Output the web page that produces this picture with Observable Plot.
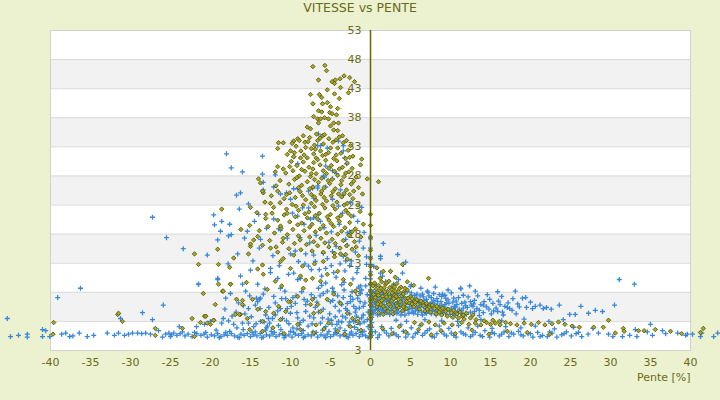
<!DOCTYPE html>
<html>
<head>
<meta charset="utf-8">
<script src="https://cdn.jsdelivr.net/npm/d3@7"></script>
<script src="https://cdn.jsdelivr.net/npm/@observablehq/plot@0.6"></script>
<style>
  html, body { margin: 0; padding: 0; background: #ecf1cf; }
  #title { height: 20px; line-height: 20px; text-align: center; font: 12.5px "DejaVu Sans", sans-serif; color: #6a6a1a; }
  #chart svg { display: block; }
</style>
</head>
<body>
<div id="title">VITESSE vs PENTE</div>
<div id="chart"></div>
<script>
// ---- Tick values / labels ----
const xTicks = [-40,-35,-30,-25,-20,-15,-10,-5,0,5,10,15,20,25,30,35,40];
const yTicks = [53,48,43,38,33,28,23,18,13,8,3,-2];
const yTickLabels = ["53","48","43","38","33","28","23","18","13","8","3","3"];
const bandLows = [43,33,23,13,3];   // grey bands (low edge, +5)
const xLabel = "Pente [%]";

// ---- Olive series (diamonds): [pente, vitesse] ----
const oliveTop = [[-7.2,46.8],[-5.7,47],[-5.5,46.1],[-6.5,44.5],[-4.8,44.2],[-4.4,44.5],[-3.8,44.7],[-3.3,45.2],[-2.6,44.9],[-2,44.2],[-4.5,43.9],[-3.75,43.2],[-2.75,42.3],[-5.4,42.8],[-7.5,42],[-6.4,42],[-6.1,41.5],[-4.5,42.1],[-3.9,41.3],[-7.2,40.4],[-6,40.4],[-5.4,40.6],[-5,39.9],[-4.1,39.6],[-6.5,39.2],[-6.1,39],[-5.1,38.9],[-4.8,38.7],[-4.25,38.5],[-7.1,38.2],[-6.6,37.8],[-6.25,37.8],[-5.75,38],[-5.25,37.8],[-6.5,37.1],[-4.6,37.1],[-4,37.1],[-7.9,36.4],[-7.5,36.1],[-5,36.6],[-4.6,35.9],[-4.1,35.8],[-6.75,35.2],[-6,34.9],[-5.75,35.1]];
const oliveMid = [[-8.4,34.9],[-9.1,34.4],[-9.6,34],[-11.5,33.7],[-10.9,33.7],[-11.6,32.7],[-10,32.3],[-9.6,31.3],[-8.75,31.1],[-7.9,31.1],[-7.1,31.8],[-6.25,32.3],[-5.25,32],[-4.1,32.8],[-3.4,33.7],[-1.1,30.9],[-1.25,29.9],[-0.4,27.5],[1,27],[-1,24.9],[-2.1,25.4],[-11.6,29.6],[-11.9,28.7],[-14,27.5],[-13.75,26.8],[-13.4,25.1],[-10.9,29.2],
[-8.2,33.8],[-7.6,34.6],[-7,33.3],[-6.6,34.1],[-5.9,33.5],[-5.2,34.4],[-4.7,33.8],[-3.9,34.7],[-3,34.1],[-2.5,33.2],[-9.3,33.1],[-8.7,32.3],[-7.4,32.7],[-6.8,31.1],[-5.6,31.7],[-4.6,31],[-3.7,31.9],[-2.8,32.4],[-2.2,31.4],[-10.4,31.7],[-9.9,30.5],[-9.2,29.8],[-8.4,30.4],[-7.7,29.5],[-7.1,30.3],[-6.3,29.9],[-5.6,30.7],[-4.9,29.8],[-4.2,30.6],[-3.5,29.5],[-2.9,30.2],[-2.3,29.3],[-10.6,28.5],[-9.7,28.9],[-8.9,28],[-8.2,28.8],[-7.5,27.9],[-6.8,28.4],[-6.1,27.6],[-5.5,28.4],[-4.8,27.4],[-4.1,28.1],[-3.3,27.9],[-2.7,28.7],[-1.8,27.8],[-11.3,27.2],[-10.2,26.6],[-9.5,27.4],[-8.6,26.4],[-7.9,27],[-7.2,26.1],[-6.5,26.9],[-5.8,26],[-5.1,26.7],[-4.4,25.8],[-3.7,26.5],[-3,25.6],[-2.4,26.6],[-1.5,26],
[-12.4,24.6],[-11.6,25.4],[-10.8,24.1],[-10.1,25.1],[-9.4,24.3],[-8.8,25.3],[-8.1,23.9],[-7.4,24.8],[-6.8,23.8],[-6.2,24.9],[-5.5,23.7],[-4.9,24.6],[-4.2,23.5],[-3.6,24.4],[-2.9,23.3],[-2.2,24.1],[-1.6,23],[-13.2,23.5],[-12.1,22.6],[-11.3,23.4],[-10.5,22.3],[-9.8,23.1],[-9,22.1],[-8.4,23],[-7.7,21.8],[-7,22.7],[-6.4,21.6],[-5.7,22.5],[-5,21.4],[-4.4,22.3],[-3.7,21.2],[-3.1,22.1],[-2.4,21.1],[-1.3,21.9],[-14.2,21.7],[-13.1,20.7],[-12.3,21.6],[-11.6,20.4],[-10.8,21.3],[-10.1,20.1],[-9.4,21],[-8.6,19.9],[-7.9,20.8],[-7.3,19.7],[-6.6,20.6],[-5.9,19.5],[-5.2,20.4],[-4.6,19.3],[-3.9,20.2],[-3.2,19.1],[-2.6,20],[-1.9,18.9],[-0.9,19.7],[-15.1,19.5],[-13.9,18.6],[-12.8,19.3],[-12,18.2],[-11.2,19],[-10.4,17.9],[-9.7,18.8],[-9,17.7],[-8.3,18.6],[-7.6,17.5],[-6.9,18.4],[-6.2,17.3],[-5.5,18.2],[-4.8,17.1],[-4.1,18],[-3.4,16.9],[-2.7,17.8],[-2,16.7],[-1.2,17.5],[-14.6,17],[-13.5,16.1],[-12.6,16.9],[-11.8,15.8],[-11,16.6],[-10.2,15.5],[-9.5,16.4],[-8.7,15.3],[-8,16.2],[-7.3,15.1],[-6.6,16],[-5.9,14.9],[-5.2,15.8],[-4.5,14.7],[-3.8,15.6],[-3.1,14.5],[-2.3,15.4],[-1.5,14.3],
[-18.6,22.3],[-15,22.6],[-13.5,25.4],[-12.5,23.3],[-13.1,21.4],[-11.25,19.4],[-15,15.9],[-14.1,17.6],[-16.2,18.8],
[-9.8,33.6],[-8.9,34.1],[-7.8,33.9],[-6.3,34.5],[-4.3,34.2],[-3.5,34.9],[-8.1,32.9],[-6.9,32.6],[-6,31.5],[-5,32.8],[-4.3,31.6],[-3.1,31],[-9.5,32],[-8.3,31.6],[-7.2,29.2],[-6.6,30.8],[-5.2,29.3],[-3.9,29.2],[-2.6,31.2],[-10.1,29.6],[-8.6,29.1],[-7.4,28.4],[-5.9,28.9],[-4.5,28.8],[-3.1,28.5],[-9.2,27.7],[-7,27.4],[-5.3,27.2],[-3.6,27.2],[-2.1,27.1],[-9,26],[-7.6,25.8],[-6.1,25.4],[-4.7,25.3],[-3.3,25],[-11.8,26.3],[-10.5,24.8],[-8.5,24.6],[-7,24.4],[-5.8,24.3],[-4,24.9],[-2.6,24.8],[-9.3,22.8],[-7.4,23.3],[-6,23.1],[-4.7,22.9],[-3.3,23],[-10.4,21.6],[-8.2,21.5],[-6.9,21.2],[-5.4,21],[-4.1,20.8],[-2.8,21.6],[-9.1,19.6],[-7.6,19.2],[-6.3,18.9],[-4.9,19.8],[-3.6,18.5],[-2.3,18.4],[-10.9,17.3],[-8.8,17],[-7.1,16.7],[-5.7,16.5],[-4.4,16.4],[-3,16],[-1.8,15.8]];
const oliveLow = [[-22,14.6],[-19.1,15.4],[-21.5,12.8],[-19,12.8],[-17.1,13.9],[-17.6,12.3],[-15.25,14.6],[-15,16.3],[-13.5,12.7],[-13.4,11.1],[-14.1,12],[-12.5,15.6],[-11.6,14.9],[-11.25,13.3],[-11.9,9.9],[-11.1,9.1],[-12.9,8.5],[-14.75,6.8],[-16,5.9],[-19.4,5.9],[-20.9,7.8],[-19,9.4],[-18.5,8.2],[-17.5,9.4],[-20.6,3.9],[-19.6,3.2],[-16.25,4.2],[-14.1,5.1],[-13.1,4.7],[-13.5,3],[-12.1,4.4],[-11.25,3.3],[-10.6,4.7],[-10,6.4],[-9.1,7.3],[-8.4,8.7],[-7.25,6.8],[-6.6,5.9],[-6.25,4.7],[-7.1,4.4],[-5.4,6.8],[-4.6,7.7],[-3.75,6.1],[-2.9,4.4],[-2.25,3.5],[-1.6,3],[-5.25,2.7],[-6.8,2.4],[-9.1,2.5],[-8.75,10.8],[-8.1,10.1],[-7.25,10.4],[-6.25,9.9],[-5.4,11.1],[-4.1,11.6],[-3.4,10.2],[-2.5,9.4],[-1.9,8.2],[-3.75,14.6],[-4.5,14.1],[-2.9,13.7],[-5.9,13.3],[-7,12.9],[-8.5,12.5],[-10,12.1],[-10.9,13.8],[-9.6,14.4],
[-31.6,4.2],[-31.5,4.4],[-31,3],[-39.6,2.8],[-39.7,0.8],[-26.9,1.8],[-26.9,0.6],[-23.5,1.8],[-22.3,3.5],[-22,0.4],[-21.25,2.8],[-20.75,3.9],[-20.6,3.9],[-20.4,2.7],[-20,2.5],[-19.6,3.2],[-18.4,8.2],[-17.5,9.4],[-16.75,6.8],[-16.4,4.2],[-16,6.6],[-15.4,3.5],[-15.5,9.7],[-15.1,1.6],[-13.5,1.3],[-8.75,1.6],[-7.1,1],[-4.1,1.3],[-2.5,2.1],[-16.9,4.2],[-11.5,5.6],[-10.25,6.4],[-7.5,5.9],[-12.2,1.9],[-10.8,0.9],[-5.8,1.7],[-3.2,0.8],[-1.2,1.5],
[0,19.5],[0,17.5],[0,15.2],[0,13.8],[0,12.5],[0,11],[0,9.5],[0,8.2],[0,7],[0,5.8],[0,4.6],[0,3.4],[0,2.2],[0,1],[0,0.3],[0,21.4],[0,6.4],[0,3.9]];
const oliveRight = [[0.5,9.6],[1,9.2],[1.4,9.8],[1.9,9.4],[2.3,9.9],[2.8,9.1],[3.3,9.5],[3.8,8.9],[0.7,8.6],[1.2,8.3],[1.7,8.8],[2.1,8.1],[2.6,8.5],[3.1,8.2],[3.6,8.6],[4.1,8],[4.6,8.4],[0.4,7.6],[0.9,7.9],[1.5,7.3],[1.9,7.7],[2.4,7.2],[2.9,7.6],[3.4,7],[3.9,7.4],[4.4,6.9],[5,7.3],[0.6,6.7],[1.1,6.3],[1.6,6.8],[2.2,6.2],[2.7,6.6],[3.2,6],[3.7,6.4],[4.2,5.9],[4.8,6.2],[5.4,6.6],[0.8,5.5],[1.3,5.9],[1.8,5.2],[2.5,5.6],[3,5],[3.5,5.4],[4,4.8],[4.5,5.2],[1,4.5],[1.6,4.2],[2.2,4.7],[2.8,4.3],
[0.3,9.1],[1.3,8.7],[2,9.6],[2.4,8.8],[3,8.9],[3.5,8.1],[4.3,8.7],[1,7.5],[1.8,8.1],[2.7,7.9],[3.2,7.3],[4.1,7.7],[4.7,7],[0.6,7.1],[1.4,6.6],[2,7.2],[2.9,6.9],[3.5,6.8],[4.5,6.4],[5.2,6],[0.9,6],[1.6,5.6],[2.3,5.9],[3.3,5.7],[4.1,5.5],[5.8,6.7],[6.5,6.2],[7.4,5.7],[8.5,5.3],[9.3,5],[10.6,4.6],[11.5,3.9],[12.5,3.6],[13.2,3.3],[12.8,4.1],
[5.2,6.9],[5.6,6.3],[5.9,5.9],[6.3,6.5],[6.6,5.7],[7,6.1],[7.3,5.4],[7.7,5.8],[8,5.2],[8.3,5.6],[8.7,4.9],[9,5.3],[9.4,4.7],[9.7,5.1],[10.1,4.5],[10.4,4.9],[10.8,4.3],[11.2,4.6],[11.6,4.1],[12,4.4],[6.1,5.1],[6.8,4.8],[7.5,4.6],[8.2,4.3],[8.9,4.1],[9.6,3.9],[10.3,3.7],[11,3.6],[11.7,3.4],[5.4,5.5],[7.1,5.1],[8.6,4.6],
[5.5,2.8],[6.4,2.5],[7.3,2.9],[8.1,2.4],[9.2,2.7],[10.2,2.4],[11.4,2.8],[12.3,2.5],[13.1,2.7],[13.8,2.4],[14.5,2.8],[15,2.5],[15.6,2.7],[16.2,2.4],[16.9,2.8],[17.5,2.6],[18.3,2.4],[19.2,2.7],[20.1,2.5],[21,2.8],[21.8,2.4],[22.7,2.6],[23.5,2.9],[24.3,2.5],[25.2,2.2],[26.1,2],[14.2,3.1],[15.3,3.2],[16.1,3],
[1.5,1.8],[2.7,0.9],[3.6,2.1],[4.4,1.2],[6,1.6],[7.6,0.7],[8.8,1.4],[10.6,0.9],[12.7,1.5],[14.8,0.8],[17.1,1.3],[19.6,1.1],[22.4,0.8],
[1.6,11.6],[2.5,11.6],[4,12.8],[7.25,10.4],[0.8,12.2],[3.1,10.6],[1.2,10.4],[5.4,9.2],[4.6,9.8],
[29.75,3.2],[27.9,2],[29.1,2],[30.6,1],[31.6,1.8],[31.7,1.3],[33.5,1.4],[34.2,1.4],[37.5,1.3],[41.6,1.8],[41.25,1.1],[35.6,1.6],[38.9,0.9]];

// ---- Blue series (plus): [pente, vitesse] ----
const blueLeft = [[-18,31.8],[-13.5,31.4],[-17.4,29.4],[-16,28.7],[-13.5,28.3],[-13.4,26.9],[-12.1,26.1],[-13.4,25.6],[-16.75,24.7],[-16.25,25.1],[-11.25,24.9],[-10,24],[-9.6,25.8],[-9.1,30.1],[-9.6,31.3],[-6.25,33.2],[-4,34],[-3.4,33.2],[-5.6,29.7],[-4.75,28.9],[-4.25,28.4],[-15.25,23.2],[-16.4,22.3],[-19.6,21.3],[-18.6,20.2],[-19.5,19.6],[-17.6,19.7],[-18.75,18.5],[-19.1,17],[-17.75,17.7],[-17.4,17.9],[-15.75,17.3],[-15.4,18.5],[-14.5,20.2],[-14,21.4],[-13.75,17.1],[-13,19],[-12.1,20.6],[-11.5,18.9],[-11.25,18.7],[-10.4,17.3],[-9.75,21.6],[-9.1,21.1],[-8.5,22.5],[-7.75,22.5],[-7.5,20.6],[-7.1,20.8],[-6.5,21.4],[-6.25,20.2],[-9.1,25.8],[-7.25,25.9],[-6.6,25.9],[-5.9,28],[-4.75,24],[-4,22.8],[-3.5,21.6],[-2.9,18.2],[-2.6,18.4],[-3.1,17.1],[-2.1,21.1],[-1.6,20.2],
[-11.9,28.2],[-6.5,35.2],[-6.6,33.2],[-5.4,32.8],[-3.4,32.3],[-3.25,31.1],[-3,30.1],[-5.75,27.8],[-4.75,27.5],[-6.6,26.3],[-5.6,26.1],[-3.75,25.6],[-3.4,24.7],[-7.75,25.4],[-7.1,24.2],[-10.5,25.1],[-27.25,20.9],[-25.5,17.4],[-23.4,15.5],
[-20.4,14.4],[-21.5,9.4],[-19.1,10.2],[-18.1,7],[-17.5,7.8],[-16.25,10.8],[-15,11.8],[-16,9.4],[-14.25,7],[-13.9,6.8],[-13.4,7.7],[-12.5,12.1],[-12.5,11.4],[-11.6,10.4],[-11.25,8.7],[-10.25,11.1],[-9.6,11.3],[-9.1,10.2],[-8.75,10.4],[-7.75,12.5],[-7.4,11.9],[-10,14.6],[-9.4,15.1],[-8.1,14.6],[-7.1,14.4],[-5.9,14.7],[-4.75,15],[-5.4,13.8],[-6.5,8.7],[-6.1,9.2],[-5.4,8.2],[-4.75,8.7],[-4.1,7.4],[-3.4,7.1],[-2.9,6.1],[-2.5,6.4],[-2.1,5.6],[-1.6,7],[-1.25,7.8],[-0.6,10.4],[-1.25,9.1],[-2.1,3],[-1.75,3.9],[-3.5,3.9],[-4,3],[-4.9,3.2],[-6.25,2.7],[-7.1,3.6],[-8.1,4.7],[-9.1,3.6],[-10,4.4],[-11.25,5.2],[-12.25,3.5],[-13.1,4.1],[-13.75,3],[-15.25,2.7],[-16,2.7],[-17.1,2.5],[-17.75,3.1],[-18.6,2.7],[-20,3],[-20.75,2.5],
[-4.4,5.6],[-3.9,4.8],[-3.1,5.2],[-2.6,4.3],[-1.9,4.6],[-1.4,5.3],[-0.9,4.1],[-0.7,6.2],[-1.1,8.4],[-2.3,8.1],[-3.6,9.3],[-4.3,10.6],[-5,6.4],[-5.9,5.1],[-6.7,6.3],[-7.4,7.6],[-8.3,6.8],[-9.4,6.1],[-10.6,6.9],[-11.9,6.2],[-0.4,3.3],[-1.3,2.6],[-2.7,2.3],[-3.8,1.9],[-5.6,2.1],[-7.8,2.2],[-9.7,1.9],[-11.5,2.3],[-13,1.9],[-14.6,2.1],[-0.5,12.8],[-1.6,12.1],[-2.4,13.4],[-3.2,11.7],[-0.9,15.6],[-1.9,14.9],[-2.9,16.1],
[-19.1,10.4],[-14.1,9.4],[-18.4,3.5],[-21.75,2.1],[-15.6,8.2],[-15.25,5.2],[-14.4,5.8],[-13.75,7],[-12.75,3.5],[-10.4,5.2],
[-16.8,4.6],[-15.9,5.7],[-14.9,3.8],[-14.1,6.4],[-13.3,2.9],[-12.7,5.4],[-11.9,4.1],[-11.1,6.9],[-10.5,3.1],[-9.9,5.6],[-9.3,7.4],[-8.8,2.8],[-8.1,5.9],[-7.6,3.9],[-7,7.1],[-6.5,4.6],[-5.9,7.8],[-5.3,3.4],[-4.7,6.6],[-4.2,2.5],[-3.6,5.9],[-3.1,3.6],[-2.5,7.3],[-1.9,3.1],[-1.3,6.4],[-0.8,2.9],[-0.4,7.6],
[-18.2,5.1],[-17.3,3.9],[-16.5,6.2],[-15.7,4.3],[-15.1,7.4],[-14.3,2.6],[-13.8,5.2],[-13.2,8.6],[-12.6,2.7],[-12.1,7.3],[-11.6,4.8],[-11,3.5],[-10.7,8.2],[-10.2,2.6],[-9.7,7.1],[-9.2,4.5],[-8.6,8.1],[-8.4,3.2],[-7.9,6.5],[-7.3,2.6],[-6.9,5.4],[-6.3,7.4],[-6,3.6],[-5.6,9.6],[-5.1,4.3],[-4.6,8.1],[-4.4,3.8],[-3.9,6.3],[-3.6,2.9],[-3.3,8.4],[-2.9,4.9],[-2.6,2.9],[-2.2,6.8],[-1.8,5.2],[-1.5,8.9],[-1.1,3.6],[-0.9,5.6],[-0.6,9.1],[-0.3,4.6],[-0.3,2.1],[-17.8,12.9],[-16.6,14.6],[-14.7,13.4],[-13.9,15.6],[-12.2,14.3],[-11.4,12.6],[-9,13.3],[-6.4,11.9],[-4.9,12.6],[-3.1,13.4],
[-5.8,19.1],[-4.9,18.4],[-3.9,19.7],[-5.2,16.6],[-4.3,15.9],[-3.4,14.2],[-2.6,12.6],[-5.6,12.1],[-4.6,11.4],[-3.8,12.9],[-6.1,10.8],[-2.2,10.3],[-1.7,11.4],[-3.3,9.7],[-6.8,17.8],[-7.6,16.5],[-8.3,19.7],[-8.8,17.4],[-6.9,13.3],[-8.2,12.9],[-1.1,22.6],[-2.5,23.4],[-0.8,18.3],[-1.4,16.8],[-0.5,14.1]];
const blueBottomLeft = [[-30.25,0.8],[-29.75,1],[-29.1,1],[-28.6,0.9],[-28.1,1],[-27.5,0.8],[-27.25,3.3],[-26.5,1.4],[-25.9,5.8],[-25.6,0.8],[-25.2,1],[-24.9,0.7],[-24.6,1],[-24.2,0.6],[-23.8,0.9],[-23.2,0.5],[-22.8,0.8],[-22.3,0.4],[-21.7,0.9],[-21.2,0.6],[-20.8,0.8],[-20.4,0.3],[-19.9,0.7],[-19.5,0.5],[-19.1,0.9],[-18.7,0.4],[-18.3,0.7],[-17.9,0.6],[-17.4,0.9],[-17,0.5],[-16.6,0.3],[-16.2,0.8],[-15.8,0.6],[-15.4,0.9],[-15,0.4],[-14.6,0.7],[-14.2,0.5],[-13.8,0.9],[-13.4,0.3],[-13,0.7],[-12.6,0.5],[-12.2,0.8],[-11.8,0.4],[-11.4,0.7],[-11,0.9],[-10.6,0.5],[-10.2,0.7],[-9.8,0.3],[-9.4,0.8],[-9,0.6],[-8.6,0.9],[-8.2,0.4],[-7.8,0.7],[-7.4,0.5],[-7,0.9],[-6.6,0.3],[-6.2,0.7],[-5.8,0.5],[-5.4,0.8],[-5,0.4],[-4.6,0.7],[-4.2,0.9],[-3.8,0.5],[-3.4,0.7],[-3,0.4],[-2.6,0.8],[-2.2,0.6],[-1.8,0.9],[-1.4,0.4],[-1,0.7],[-0.6,0.5],
[-20.6,1.1],[-18.9,0.2],[-18.1,1.1],[-16.4,0.2],[-14.8,1.1],[-13.6,0.2],[-12,1.1],[-10.8,0.2],[-9.6,1.1],[-8.4,0.2],[-6.8,1.1],[-5.6,0.2],[-4.4,1.1],[-2.8,0.2],[-1.2,1.1],[-0.3,0.2],[-23.5,1.2],[-22,1.1],[-25,0.4],
[-19.3,1.5],[-17.6,1.3],[-15.9,1.6],[-14.4,1.2],[-13.1,1.5],[-12.4,1.3],[-11.2,1.6],[-10,1.3],[-9.2,1.7],[-8.4,1.4],[-7.2,1.2],[-6,1.5],[-5.2,1.3],[-4.4,1.7],[-3.2,1.4],[-2.4,1.2],[-1.6,1.6],[-0.8,1.3],[-16.7,1.9],[-12.9,2.2],[-8.9,2.4],[-4.8,2.5],[-2,2],
[-45.4,3.5],[-45,0.4],[-44,0.6],[-42.9,0.8],[-42.9,0.3],[-41,1.6],[-40.6,1.4],[-41,0.4],[-40.1,0.4],[-39.1,7.1],[-36.25,8.7],[-38.6,0.8],[-38.1,1],[-37.6,0.4],[-37.2,0.5],[-36.4,1],[-35.4,0.4],[-34.6,0.6],[-32.9,1],[-32,0.6],[-31.5,1],[-30.75,0.6],[-31.25,3.5],[-28.5,4.5],[-21.5,9.4],[-23.9,2.1],[-26,0.3]];
const blueRight = [[0.4,8.1],[1.3,7.9],[2.1,8.2],[3.4,7.8],[4.6,8.1],[5.8,7.7],[7.2,8],[8.6,7.6],[10.1,7.9],[11.6,7.5],
[0.7,7.4],[1.6,7.6],[2.6,7.3],[3.8,7.5],[4.9,7.2],[6.2,7.4],[7.6,7.1],[8.9,7.3],[10.4,7],[12.2,7.2],[13.4,7.4],
[0.3,6.9],[1.1,6.7],[1.9,7],[2.8,6.8],[3.6,6.6],[4.4,6.9],[5.3,6.7],[6.1,6.5],[7,6.8],[7.9,6.6],[8.8,6.4],[9.7,6.7],[10.7,6.5],[11.8,6.3],[13,6.6],[14.2,6.4],
[0.5,6.3],[1.3,6.1],[2.1,6.4],[2.9,6.2],[3.7,6],[4.5,6.3],[5.4,6.1],[6.3,5.9],[7.1,6.2],[8,6],[8.9,5.8],[9.8,6.1],[10.8,5.9],[11.9,5.7],[12.9,6],[14.1,5.8],[15.3,6.1],
[0.3,5.6],[1,5.8],[1.8,5.5],[2.5,5.7],[3.3,5.4],[4.1,5.7],[4.9,5.5],[5.7,5.3],[6.6,5.6],[7.4,5.4],[8.3,5.2],[9.2,5.5],[10.1,5.3],[11.1,5.1],[12.1,5.4],[13.3,5.2],[14.5,5.5],[15.7,5.3],[16.8,5.6],
[0.6,5],[1.4,4.8],[2.2,5.1],[3,4.9],[3.9,4.7],[4.7,5],[5.6,4.8],[6.4,4.6],[7.3,4.9],[8.1,4.7],[9,4.5],[9.9,4.8],[10.9,4.6],[11.9,4.4],[13,4.7],[14.1,4.5],[15.4,4.8],[16.5,4.6],[17.7,4.9],
[0.4,4.4],[1.2,4.2],[2,4.5],[2.9,4.3],[3.8,4.1],[4.8,4.4],[5.9,4.2],[7,4.4],[8.2,4.1],[9.4,4.3],[10.6,4.1],[12,4.2],[13.6,4],[15.1,4.3],[16.6,4.1],[18.2,4.3],
[0.9,6.5],[1.7,5.9],[2.4,6.6],[3.2,5.8],[4,6.5],[4.9,5.9],[5.9,6.4],[6.8,5.8],[7.7,6.3],[8.6,5.7],[9.5,6.2],[0.8,7.1],[2.3,7.5],[3.9,7.1],[5.5,7.5],[7.3,7.4],[1.5,5.3],[3.5,5.2],[5.2,5.2],[6.9,5.2],[8.7,5.4],[10.5,5.6],[12.5,6.4],[13.8,5.9],[16.2,5.9],[17.4,5.2],[18.6,5.5],[19,7],[19.4,7.1],[19.5,5.4],[20.25,5.2],[20.6,5.6],[21.6,5.2],[22,5.4],[23.6,5.8],[24.9,4.2],[25.6,4.2],[27.25,4.4],[29,4.7],[30.5,5.8],[31.1,10.2],[33,9.4],
[0.5,7.8],[1.5,8.1],[2.7,7.7],[3.1,8],[4.2,7.7],[5.1,7.9],[6.5,7.7],[7.9,7.8],[9.3,7.5],[0.2,7.2],[1.2,7.2],[2,6.8],[3.1,7.1],[4.1,7.2],[5.7,7],[6.6,7.2],[8.3,6.9],[9.4,7],[11,7.1],[0.6,6],[1.5,6.5],[2.5,6],[3.4,6.4],[4.3,5.9],[5.1,6.4],[6,6],[6.7,6.6],[7.5,6],[8.4,6.4],[9.3,5.9],[10.3,6.3],[11.4,6.1],[12.6,5.8],[0.8,5.3],[1.2,5.5],[2,5.3],[2.8,5.5],[3.6,5.6],[4.4,5.3],[5.3,5.6],[6.1,5.4],[7,5.7],[7.8,5.2],[9.6,5.1],[10.6,5.4],[11.6,5.3],[12.8,5.6],[0.3,4.8],[1,5],[1.8,4.7],[2.6,4.9],[3.4,4.6],[4.3,4.9],[5.2,4.6],[6,4.9],[6.9,4.5],[7.7,4.8],[8.6,4.6],[9.5,4.9],[10.4,4.5],[11.4,4.8],[12.5,4.6],[13.6,4.9],[0.9,4.1],[1.6,4.6],[2.4,4.2],[3.3,4.4],[4.3,4.1],[5.4,4.4],[6.5,4.1],[7.6,4.3],[8.8,4.4],[10,4.2],[11.3,4.4],[14.8,5.1],[15.9,4.7],[17.1,5.4],[14.9,6.8],[16,6.5],[17.2,6.2],[18.4,6],[20,6.3],[21.2,5.8],[22.6,5.1],[26.3,5.6],[28.1,4.9],
[1.25,14.2],[1.25,13.8],[3.4,14.5],[4.4,13.2],[4.1,12.8],[0.4,12.5],[1.25,11.3],[1.5,10.8],[2.5,11.6],[1.6,16.4],[4,11.3],[1.9,9.8],[0.7,9.2],[2.9,9.4],[3.5,10.2],[6.3,8.7],[5.1,9.3],[8.1,8.9],[9.7,8.4],[11.3,8.6],[13.1,8.2],[14.6,7.6],[16.4,7.3],[17.8,6.9],[15.9,8.1],[12.4,9.1],[18.1,8.2],[5,9],[7.1,8.2],[9,7.7],[11.25,8.7]];
const blueBottomRight = [[0.6,1.2],[1.1,0.7],[1.7,1.4],[2.3,0.5],[2.9,1],[3.5,0.4],[4.1,1.3],[4.7,0.8],[5.3,0.3],[5.9,1.1],[6.5,0.6],[7.1,1.4],[7.7,0.4],[8.3,0.9],[8.9,1.3],[9.5,0.5],[10.1,1],[10.7,0.3],[11.3,1.2],[11.9,0.7],[12.5,0.4],[13.1,1.1],[13.7,0.6],[14.3,1.4],[14.9,0.3],[15.5,0.9],[16.1,0.5],[16.7,1.2],[17.3,0.4],[17.9,0.8],[18.5,1.3],[19.1,0.5],[19.7,0.9],[20.3,0.3],[20.9,1.1],[21.5,0.6],[22.1,0.4],[22.7,1],[23.3,0.3],[23.9,0.7],[24.5,1.2],[25.1,0.5],[25.7,0.9],[26.4,0.4],[27.2,0.8],[28.5,1],[29.75,0.8],[30.3,0.4],[31.5,0.4],[32.4,0.6],[33.3,0.4],[33.1,1.6],[34.6,1.2],[35.25,0.6],[36.5,1.4],[36.9,0.9],[38.4,1],[39.4,0.6],[39.6,0.8],[40.25,0.8],[41.25,0.4],[41.4,1],[42.9,0.4],[43.4,1],[35,2.5],
[0.9,0.2],[2,1],[3.2,0.7],[4.4,0.3],[5.6,0.9],[6.8,1],[8,0.3],[9.2,0.8],[10.4,0.6],[11.6,0.9],[12.8,0.7],[14,0.4],[15.2,1.1],[16.4,0.8],[17.6,1],[18.8,0.7],[20,0.9],[21.2,0.4],[22.4,1.2],[24.2,0.9],[26,1.1],
[1.4,2.1],[2.6,1.8],[3.8,2.4],[5.1,1.9],[6.2,2.3],[7.4,1.7],[8.6,2.2],[9.8,1.8],[11,2.3],[12.2,1.9],[13.4,2.2],[15.2,1.8],[16.9,2.1],[18.8,1.9],[20.6,2.2],[23,1.7],[25.4,2],[27.8,1.8],[3.2,3.2],[4.5,3],[6.8,3.3],[8.9,3.1],[10.9,3],[13.8,3.3],[16.4,3.1],[19.2,3.4],[22.3,3],[24.1,3.3],
[0,0.3],[0,0.9],[0,1.6],[0,2.4],[0,3.3],[0,4.2],[0,5],[0,5.8],[0,6.7],[0,7.5],[0,8.4],[0,9.3],[0,10.3],[0,11.5],[0,12.8],[0,14.1],[0,15.6],[0,17.2],
[0.15,0.6],[0.15,1.3],[0.15,2],[0.15,2.8],[0.15,3.7],[0.15,4.6],[0.15,5.4],[0.15,6.2],[0.15,7.1],[0.15,7.9]];

const olivePts = [...oliveTop, ...oliveMid, ...oliveLow, ...oliveRight];
const bluePts = [...blueLeft, ...blueBottomLeft, ...blueRight, ...blueBottomRight];

// ---- Symbols ----
const plusSymbol = { draw(ctx, size) { const r = Math.sqrt(size / Math.PI); ctx.moveTo(-r, 0); ctx.lineTo(r, 0); ctx.moveTo(0, -r); ctx.lineTo(0, r); } };
const diamondSymbol = { draw(ctx, size) { const r = Math.sqrt(size / Math.PI); ctx.moveTo(0, -r); ctx.lineTo(r, 0); ctx.lineTo(0, r); ctx.lineTo(-r, 0); ctx.closePath(); } };

const textColor = "#6a6a1a";

const chart = Plot.plot({
  width: 720,
  height: 380,
  marginTop: 10,
  marginRight: 30,
  marginBottom: 50,
  marginLeft: 50,
  x: {domain: [-40, 40], axis: null},
  y: {domain: [-2, 53], axis: null},
  style: {fontFamily: "'DejaVu Sans', sans-serif", background: "transparent", overflow: "visible"},
  marks: [
    Plot.frame({fill: "white"}),
    Plot.rect(bandLows, {y1: d => d, y2: d => d + 5, fill: "#f2f2f2"}),
    Plot.ruleY(yTicks, {stroke: "#dadada", strokeWidth: 1}),
    Plot.frame({stroke: "#d2d2d2"}),
    Plot.text(yTicks, {x: 0, y: d => d, dx: -9, textAnchor: "end", text: (d, i) => yTickLabels[i], fill: textColor, fontSize: 11}),
    Plot.text(xTicks, {x: d => d, frameAnchor: "bottom", dy: 15, text: d => String(d), fill: textColor, fontSize: 11}),
    Plot.text([xLabel], {frameAnchor: "bottom-right", dy: 30, textAnchor: "end", text: d => d, fill: textColor, fontSize: 11}),
    Plot.dot(bluePts, {x: d => d[0], y: d => d[1], r: 2.5, symbol: plusSymbol, stroke: "#3a88d9", fill: "none", strokeWidth: 1.3}),
    Plot.dot(olivePts, {x: d => d[0], y: d => d[1], r: 2.2, symbol: diamondSymbol, stroke: "#5a5a00", fill: "#a8a832", strokeWidth: 0.9}),
    Plot.ruleX([0], {stroke: "#666600", strokeWidth: 1.5})
  ]
});
document.getElementById("chart").appendChild(chart);
</script>
</body>
</html>
